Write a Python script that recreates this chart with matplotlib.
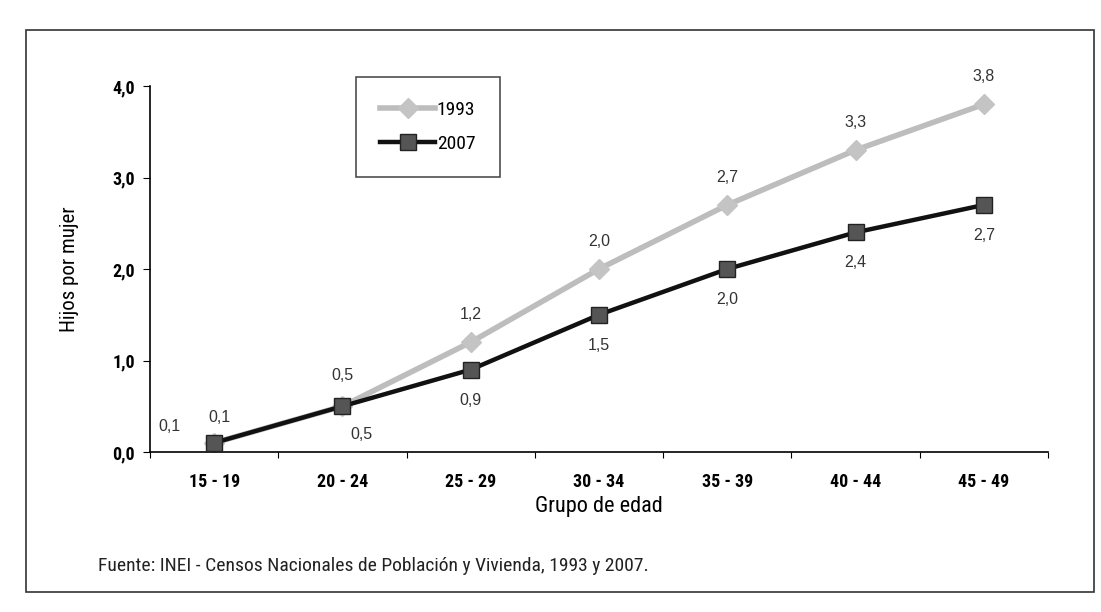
import matplotlib
matplotlib.use('Agg')
import matplotlib.pyplot as plt
from matplotlib import font_manager
from matplotlib.patches import Rectangle

# data
grupos = ['15 - 19', '20 - 24', '25 - 29', '30 - 34', '35 - 39', '40 - 44', '45 - 49']
hijos_1993 = [0.1, 0.5, 1.2, 2.0, 2.7, 3.3, 3.8]
hijos_2007 = [0.1, 0.5, 0.9, 1.5, 2.0, 2.4, 2.7]
yticks = [0.0, 1.0, 2.0, 3.0, 4.0]


def pick_narrow():
    """Find an installed narrow/condensed sans, return (family, stretch)."""
    fonts = font_manager.fontManager.ttflist
    wanted = ['Liberation Sans Narrow', 'Roboto Condensed', 'Noto Sans',
              'Open Sans', 'DejaVu Sans', 'Roboto', 'Lato', 'Inter']
    for name in wanted:
        for f in fonts:
            st = str(f.stretch)
            narrow = 'condensed' in st or 'Narrow' in f.name or 'Condensed' in f.name
            if f.name == name and narrow:
                return f.name, st
    return 'Liberation Sans', 'normal'


NARROW, STRETCH = pick_narrow()
REG = ['Liberation Sans', 'DejaVu Sans']


def nt(**kw):
    d = dict(family=NARROW, stretch=STRETCH)
    d.update(kw)
    return d


def fmt(v):
    return f'{v:.1f}'.replace('.', ',')


def main():
    W, H = 1101, 612
    fig = plt.figure(figsize=(W / 100, H / 100), dpi=100)
    fig.patch.set_facecolor('white')

    # outer frame of the figure box
    fig.patches.append(Rectangle((26 / W, 1 - 592 / H), (1094 - 26) / W, (592 - 30) / H,
                                 transform=fig.transFigure, fill=False,
                                 edgecolor='#333333', lw=1.2))

    ax = fig.add_axes([150 / W, 1 - 452 / H, (1048 - 150) / W, (452 - 86) / H])
    x = list(range(len(grupos)))

    ax.plot(x, hijos_1993, color='#bdbdbd', lw=4, marker='D', ms=10,
            mfc='#c4c4c4', mec='#c4c4c4', label='1993', zorder=2)
    ax.plot(x, hijos_2007, color='#111111', lw=3.2, marker='s', ms=11,
            mfc='#555555', mec='#222222', mew=1, label='2007', zorder=3)

    ax.set_xlim(-0.5, len(grupos) - 0.5)
    ax.set_ylim(0, 4)
    ax.set_yticks(yticks)
    ax.set_yticklabels([fmt(v) for v in yticks], **nt(fontsize=13, fontweight='bold'))
    ax.set_xticks([i + 0.5 for i in range(-1, len(grupos))])
    ax.set_xticklabels([])
    ax.set_xticks(x, minor=True)
    ax.set_xticklabels(grupos, minor=True, **nt(fontsize=13, fontweight='bold'))
    ax.tick_params(axis='x', which='minor', length=0, pad=15)
    ax.tick_params(axis='x', which='major', length=4, direction='out')
    ax.tick_params(axis='y', length=5, direction='out', pad=6)
    for s in ('top', 'right'):
        ax.spines[s].set_visible(False)
    for s in ('left', 'bottom'):
        ax.spines[s].set_linewidth(1.2)

    ax.set_xlabel('Grupo de edad', labelpad=4, **nt(fontsize=16))
    ax.set_ylabel('Hijos por mujer', labelpad=24, **nt(fontsize=15))

    # data labels: 1993 above, 2007 below, a few moved to avoid overlap
    off93 = [(-32, 12), (0, 22), (0, 20), (0, 20), (0, 20), (0, 20), (0, 20)]
    off07 = [(4, 18), (14, -20), (0, -22), (0, -22), (0, -22), (0, -22), (0, -22)]
    for i in x:
        ax.annotate(fmt(hijos_1993[i]), (i, hijos_1993[i]), xytext=off93[i],
                    textcoords='offset points', ha='center', va='center',
                    family=REG, fontsize=11.5, color='#333333')
        ax.annotate(fmt(hijos_2007[i]), (i, hijos_2007[i]), xytext=off07[i],
                    textcoords='offset points', ha='center', va='center',
                    family=REG, fontsize=11.5, color='#333333')

    leg = ax.legend(loc='upper left', bbox_to_anchor=(356 / W, 1 - 77 / H),
                    bbox_transform=fig.transFigure, borderaxespad=0,
                    frameon=True, fancybox=False, handlelength=2.8,
                    handletextpad=0.1, labelspacing=0.8, borderpad=1.25,
                    prop=font_manager.FontProperties(**nt(size=14)))
    leg.get_frame().set_edgecolor('#222222')
    leg.get_frame().set_linewidth(1.2)

    fig.text(98 / W, 1 - 566 / H,
             'Fuente: INEI - Censos Nacionales de Población y Vivienda, 1993 y 2007.',
             va='center', ha='left', color='#222222', **nt(fontsize=14))

    fig.savefig('out.png', dpi=100, facecolor='white')


if __name__ == "__main__":
    main()
